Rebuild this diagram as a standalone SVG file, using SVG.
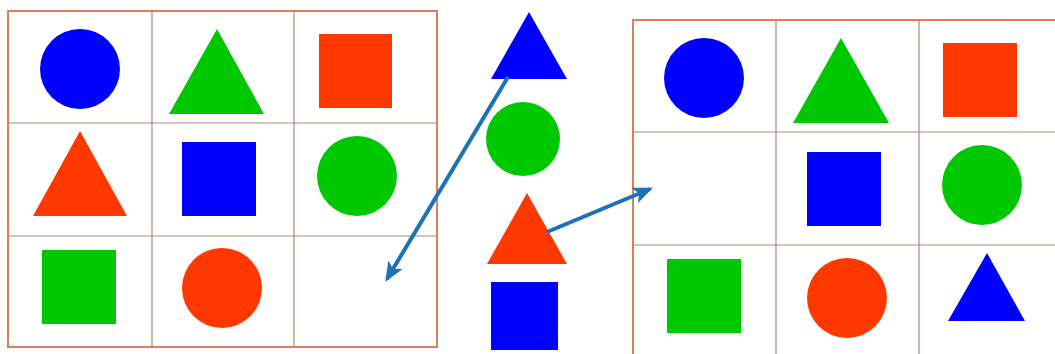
<svg xmlns="http://www.w3.org/2000/svg" width="1055" height="354" viewBox="0 0 1055 354">
<style>
.outer{fill:none;stroke:#d8805a;stroke-width:2}
.inner{stroke:#b08575;stroke-width:1.2}
.b{fill:#0000ff}.g{fill:#00c800}.r{fill:#ff3800}
.arr{stroke:#1b72b8;stroke-width:4;fill:none}
</style>
<defs>
<marker id="ah" viewBox="0 0 12 10" refX="10" refY="5" markerWidth="5" markerHeight="4.2" orient="auto" markerUnits="strokeWidth">
<path d="M0,0 L12,5 L0,10 L3,5 Z" fill="#1b72b8"/>
</marker>
</defs>
<rect width="1055" height="354" fill="#fff"/>
<g id="left-grid">
<rect class="outer" x="8" y="11" width="429" height="336"/>
<line class="inner" x1="152" y1="11" x2="152" y2="347"/>
<line class="inner" x1="294" y1="11" x2="294" y2="347"/>
<line class="inner" x1="8" y1="123" x2="437" y2="123"/>
<line class="inner" x1="8" y1="236" x2="437" y2="236"/>
<circle class="b" cx="80" cy="69" r="40"/>
<polygon class="g" points="217,29 264,114 169,114"/>
<rect class="r" x="319" y="34" width="73" height="74"/>
<polygon class="r" points="80,131 127,216 33,216"/>
<rect class="b" x="182" y="142" width="74" height="74"/>
<circle class="g" cx="357" cy="176" r="40"/>
<rect class="g" x="42" y="250" width="74" height="74"/>
<circle class="r" cx="222" cy="288" r="40"/>
</g>
<g id="middle-column">
<polygon class="b" points="529,12 567,79 491,79"/>
<circle class="g" cx="523" cy="139" r="37"/>
<polygon class="r" points="527,193 567,264 487,264"/>
<rect class="b" x="491" y="282" width="67" height="68"/>
</g>
<g id="right-grid">
<rect class="outer" x="633" y="20" width="440" height="350"/>
<line class="inner" x1="776" y1="20" x2="776" y2="354"/>
<line class="inner" x1="919" y1="20" x2="919" y2="354"/>
<line class="inner" x1="633" y1="132" x2="1055" y2="132"/>
<line class="inner" x1="633" y1="245" x2="1055" y2="245"/>
<circle class="b" cx="704" cy="78" r="40"/>
<polygon class="g" points="841,38 889,123 793,123"/>
<rect class="r" x="943" y="43" width="74" height="74"/>
<rect class="b" x="807" y="152" width="74" height="74"/>
<circle class="g" cx="982" cy="185" r="40"/>
<rect class="g" x="667" y="259" width="74" height="74"/>
<circle class="r" cx="847" cy="298" r="40"/>
<polygon class="b" points="987,253 1025,321 948,321"/>
</g>
<g id="connectors">
<line class="arr" x1="508" y1="77" x2="387" y2="279" marker-end="url(#ah)"/>
<line class="arr" x1="547" y1="232" x2="650" y2="189" marker-end="url(#ah)"/>
</g>
</svg>
